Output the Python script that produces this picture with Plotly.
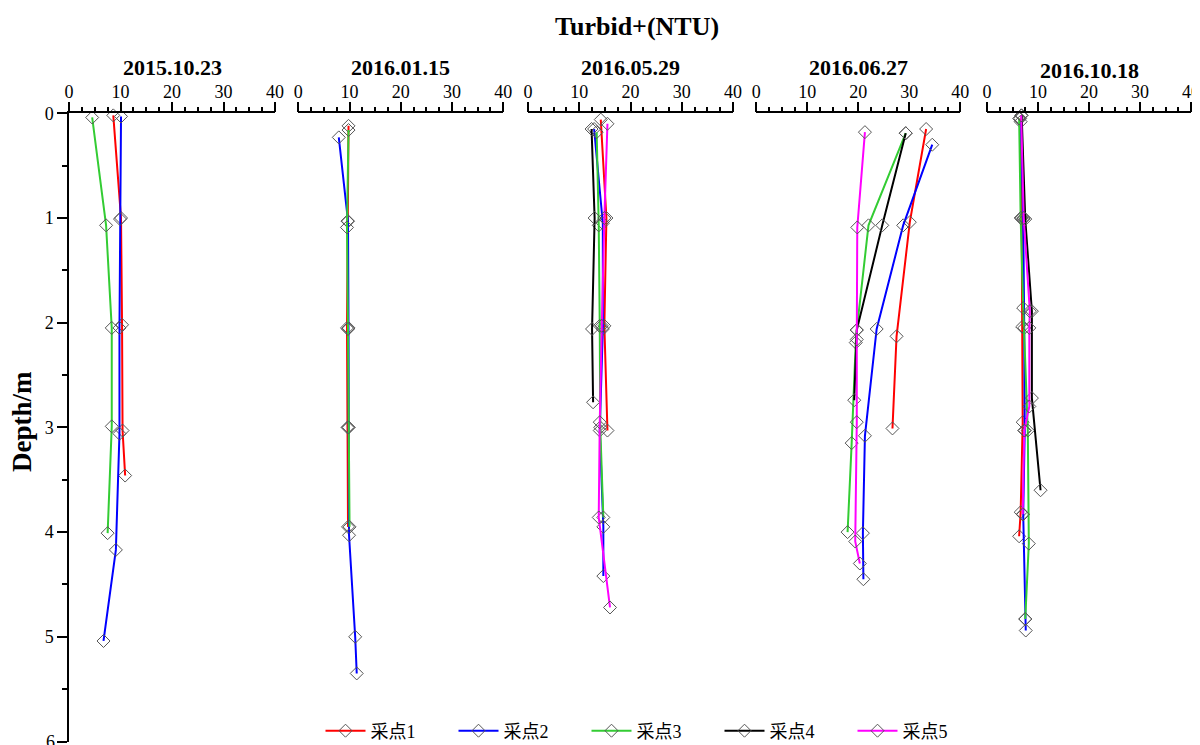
import plotly.graph_objects as go

# ---------------- data ----------------
dates = ["2015.10.23", "2016.01.15", "2016.05.29", "2016.06.27", "2016.10.18"]
series_names = ["采点1", "采点2", "采点3", "采点4", "采点5"]
series_colors = ["#FF0000", "#0000FF", "#33CC33", "#000000", "#FF00FF"]
x_ticks = [0, 10, 20, 30, 40]
y_ticks = [0, 1, 2, 3, 4, 5, 6]

# 2015.10.23
p1_s1_ntu = [8.6, 10.1, 10.3, 10.4, 10.9]
p1_s1_dep = [0.02, 1.0, 2.02, 3.03, 3.46]
p1_s2_ntu = [10.1, 9.9, 9.8, 9.8, 9.1, 6.7]
p1_s2_dep = [0.03, 1.01, 2.05, 3.06, 4.17, 5.04]
p1_s3_ntu = [4.5, 7.2, 8.3, 8.3, 7.5]
p1_s3_dep = [0.04, 1.07, 2.05, 2.99, 4.01]

# 2016.01.15
p2_s1_ntu = [9.8, 9.6, 9.5, 9.6, 9.7]
p2_s1_dep = [0.12, 1.03, 2.05, 3.0, 3.95]
p2_s2_ntu = [7.9, 9.7, 9.8, 9.8, 9.9, 11.1, 11.4]
p2_s2_dep = [0.23, 1.03, 2.05, 3.0, 4.03, 5.0, 5.35]
p2_s3_ntu = [9.8, 9.5, 9.7, 9.8, 10.0]
p2_s3_dep = [0.16, 1.09, 2.06, 3.0, 3.95]

# 2016.05.29
p3_s1_ntu = [14.2, 15.3, 14.9, 15.5]
p3_s1_dep = [0.06, 1.0, 2.03, 3.03]
p3_s2_ntu = [12.9, 14.6, 14.6, 14.0, 14.7, 14.7]
p3_s2_dep = [0.15, 1.05, 2.06, 3.03, 3.95, 4.42]
p3_s3_ntu = [13.4, 13.8, 14.0, 14.1, 14.7]
p3_s3_dep = [0.18, 1.07, 2.03, 3.0, 3.86]
p3_s4_ntu = [12.4, 13.0, 12.5, 12.7]
p3_s4_dep = [0.15, 1.0, 2.06, 2.76]
p3_s5_ntu = [15.5, 14.9, 14.4, 14.0, 13.8, 16.0]
p3_s5_dep = [0.1, 1.0, 2.03, 2.95, 3.86, 4.72]

# 2016.06.27
p4_s1_ntu = [33.3, 30.1, 27.5, 26.7]
p4_s1_dep = [0.15, 1.04, 2.13, 3.01]
p4_s2_ntu = [34.5, 28.8, 23.6, 21.3, 20.9, 21.0]
p4_s2_dep = [0.30, 1.07, 2.06, 3.08, 4.01, 4.45]
p4_s3_ntu = [29.3, 22.0, 19.7, 19.5, 18.7, 17.9]
p4_s3_dep = [0.19, 1.07, 2.07, 2.19, 3.15, 4.0]
p4_s4_ntu = [29.3, 24.7, 19.7, 19.2]
p4_s4_dep = [0.19, 1.07, 2.07, 2.74]
p4_s5_ntu = [21.3, 19.8, 19.7, 19.7, 19.4, 20.3]
p4_s5_dep = [0.18, 1.09, 2.16, 2.95, 4.09, 4.3]

# 2016.10.18
p5_s1_ntu = [6.5, 6.8, 6.9, 7.0, 6.6, 6.3]
p5_s1_dep = [0.05, 1.0, 2.04, 2.95, 3.81, 4.04]
p5_s2_ntu = [6.6, 7.1, 7.3, 7.4, 7.1, 7.5, 7.6]
p5_s2_dep = [0.08, 1.01, 2.05, 3.03, 3.83, 4.83, 4.94]
p5_s3_ntu = [6.3, 6.6, 7.1, 8.0, 8.2, 7.5]
p5_s3_dep = [0.05, 1.0, 1.86, 3.03, 4.11, 4.83]
p5_s4_ntu = [6.8, 7.5, 8.8, 8.8, 10.5]
p5_s4_dep = [0.02, 1.01, 1.89, 2.72, 3.6]
p5_s5_ntu = [6.7, 7.2, 8.4, 8.3, 8.3, 7.3, 7.0]
p5_s5_dep = [0.02, 1.0, 1.89, 2.05, 2.8, 3.03, 3.83]

panels = [
    [(p1_s1_ntu, p1_s1_dep), (p1_s2_ntu, p1_s2_dep), (p1_s3_ntu, p1_s3_dep), None, None],
    [(p2_s1_ntu, p2_s1_dep), (p2_s2_ntu, p2_s2_dep), (p2_s3_ntu, p2_s3_dep), None, None],
    [(p3_s1_ntu, p3_s1_dep), (p3_s2_ntu, p3_s2_dep), (p3_s3_ntu, p3_s3_dep),
     (p3_s4_ntu, p3_s4_dep), (p3_s5_ntu, p3_s5_dep)],
    [(p4_s1_ntu, p4_s1_dep), (p4_s2_ntu, p4_s2_dep), (p4_s3_ntu, p4_s3_dep),
     (p4_s4_ntu, p4_s4_dep), (p4_s5_ntu, p4_s5_dep)],
    [(p5_s1_ntu, p5_s1_dep), (p5_s2_ntu, p5_s2_dep), (p5_s3_ntu, p5_s3_dep),
     (p5_s4_ntu, p5_s4_dep), (p5_s5_ntu, p5_s5_dep)],
]

# ---------------- layout geometry ----------------
# page body has an 8px margin, so the figure is placed at (8, 8) in the window
OFF = 8
W, H = 1200 - OFF, 745 - OFF
panel_px = [(69, 275), (298.3, 503.3), (528, 733), (756.3, 960.3), (987, 1191)]
y_top_px, y_bot_px = 113.3, 741.5
FONT = "Liberation Serif, Times New Roman, serif"


def px(xw):
    return (xw - OFF) / W


def py(yw):
    return 1 - (yw - OFF) / H


fig = go.Figure()

for si, name in enumerate(series_names):
    first = True
    for pi, pdata in enumerate(panels):
        d = pdata[si]
        if d is None:
            continue
        xname = "x" if pi == 0 else f"x{pi+1}"
        fig.add_trace(go.Scatter(
            x=d[0], y=d[1], mode="lines+markers", name=name,
            legendgroup=name, showlegend=first,
            xaxis=xname, yaxis="y",
            line=dict(color=series_colors[si], width=2),
            marker=dict(symbol="diamond-open", size=10, color="#555555",
                        line=dict(width=1, color="#555555")),
            cliponaxis=False, hoverinfo="skip",
        ))
        first = False

layout = dict(
    width=W, height=H,
    margin=dict(l=0, r=0, t=0, b=0, autoexpand=False),
    paper_bgcolor="white", plot_bgcolor="white",
    font=dict(family=FONT, size=17, color="black"),
    showlegend=True,
    legend=dict(orientation="h", x=px(653), y=py(731), xanchor="center", yanchor="middle",
                bgcolor="rgba(0,0,0,0)",
                font=dict(family="Liberation Serif, Noto Sans CJK SC", size=18),
                entrywidth=78, itemwidth=40, tracegroupgap=0),
    yaxis=dict(
        domain=[max(0, py(y_bot_px)), py(y_top_px)],
        range=[6, 0], tickmode="array", tickvals=y_ticks,
        ticktext=[str(v) for v in y_ticks],
        ticks="outside", ticklen=10, tickwidth=1.5, tickcolor="black",
        minor=dict(dtick=0.5, tick0=0, ticks="outside", ticklen=5,
                   tickwidth=1.5, tickcolor="black"),
        showline=True, linecolor="black", linewidth=1.5,
        showgrid=False, zeroline=False, anchor="x", automargin=False,
        tickfont=dict(family=FONT, size=18),
    ),
)

for pi, (x0, x1) in enumerate(panel_px):
    key = "xaxis" if pi == 0 else f"xaxis{pi+1}"
    layout[key] = dict(
        domain=[px(x0), min(1, px(x1))], range=[0, 40], side="top", anchor="y",
        tickmode="array", tickvals=x_ticks, ticktext=[str(v) for v in x_ticks],
        ticks="outside", ticklen=10, tickwidth=1.5, tickcolor="black",
        minor=dict(dtick=2.5, tick0=0, ticks="outside", ticklen=5,
                   tickwidth=1.5, tickcolor="black"),
        showline=True, linecolor="black", linewidth=1.5,
        showgrid=False, zeroline=False, automargin=False,
        ticklabelstandoff=-4,
        tickfont=dict(family=FONT, size=18),
    )

annotations = []
for pi, (x0, x1) in enumerate(panel_px):
    ty = 70 if pi == 4 else 68
    annotations.append(dict(
        text=f"<b>{dates[pi]}</b>", x=px((x0 + x1) / 2), y=py(ty),
        xref="paper", yref="paper", xanchor="center", yanchor="middle",
        showarrow=False, font=dict(family=FONT, size=22, color="black")))
annotations.append(dict(
    text="<b>Turbid+(NTU)</b>", x=px(637), y=py(27), xref="paper", yref="paper",
    xanchor="center", yanchor="middle", showarrow=False,
    font=dict(family=FONT, size=26, color="black")))
annotations.append(dict(
    text="<b>Depth/m</b>", x=px(22), y=py(422), xref="paper", yref="paper",
    xanchor="center", yanchor="middle", textangle=-90, showarrow=False,
    font=dict(family=FONT, size=27, color="black")))
# bottom "6" depth label, which sits on the lower edge of the picture
annotations.append(dict(
    text=str(y_ticks[-1]), x=px(57), y=y_ticks[-1], xref="paper", yref="y",
    xanchor="right", yanchor="middle", showarrow=False,
    font=dict(family=FONT, size=18, color="black")))
layout["annotations"] = annotations

fig.update_layout(**layout)
fig.write_html("out.html")
